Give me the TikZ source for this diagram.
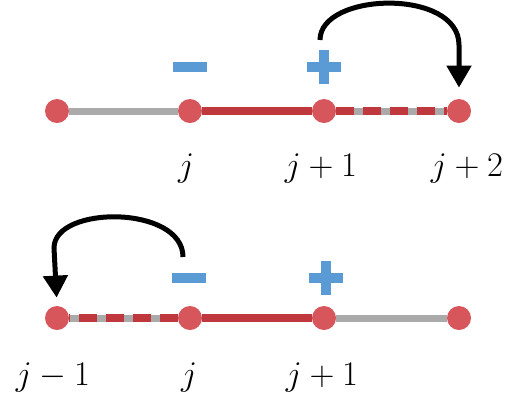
\documentclass[tikz,border=0pt]{standalone}
\usetikzlibrary{arrows.meta,backgrounds}
\definecolor{dotred}{RGB}{214,86,92}
\definecolor{linered}{RGB}{190,56,62}
\definecolor{linegray}{RGB}{170,170,170}
\definecolor{signblue}{RGB}{91,155,213}
\tikzset{
  site/.style={circle, fill=dotred, inner sep=0pt, minimum size=12pt},
  bond/.style={line width=3.5pt, linegray},
  hop/.style={line width=4pt, linered},
  hopdash/.style={line width=4pt, linered, dash pattern=on 9pt off 4.5pt},
  jump/.style={-{Triangle[width=12pt,length=11pt]}, line width=2.5pt, black},
  lab/.style={anchor=base, font=\fontsize{18}{21}\selectfont},
}
\begin{document}
\begin{tikzpicture}[x=0.5pt, y=-0.5pt]
\useasboundingbox (0,0) rectangle (524,414);
% upper chain
\node[site] (a1) at (57,111) {};
\node[site] (a2) at (190,111) {};
\node[site] (a3) at (324,111) {};
\node[site] (a4) at (459,111) {};
\begin{scope}[on background layer]
  \draw[bond] (a1) -- (a2);
  \draw[hop] (a2) -- (a3);
  \draw[bond] (a3) -- (a4);
  \draw[hopdash] (a3) -- (a4);
\end{scope}
\fill[signblue] (173,62) rectangle (207,72);
\fill[signblue] (307,62) rectangle (341,72);
\fill[signblue] (319,50) rectangle (329,84);
\coordinate (s1) at (320,40);
\draw[jump, shorten >=5.5pt] (s1) .. controls (320,-8) and (459,-12) .. (459,45) -- (a4.north);
\node[lab] (la2) at (186,176) {$j$};
\node[lab] (la3) at (321,176) {$j+1$};
\node[lab] (la4) at (467,176) {$j+2$};
% lower chain
\node[site] (b1) at (57,318) {};
\node[site] (b2) at (190,318) {};
\node[site] (b3) at (324,318) {};
\node[site] (b4) at (459,318) {};
\begin{scope}[on background layer]
  \draw[bond] (b1) -- (b2);
  \draw[hopdash] (b2) -- (b1);
  \draw[hop] (b2) -- (b3);
  \draw[bond] (b3) -- (b4);
\end{scope}
\fill[signblue] (172,273) rectangle (206,283);
\fill[signblue] (309,273) rectangle (343,283);
\fill[signblue] (321,261) rectangle (331,295);
\coordinate (s2) at (183,257);
\draw[jump, shorten >=4pt] (s2) .. controls (183,205) and (54,205) .. (54,248) -- (b1.north);
\node[lab] (lb1) at (53,385) {$j-1$};
\node[lab] (lb2) at (189,385) {$j$};
\node[lab] (lb3) at (322,385) {$j+1$};
\end{tikzpicture}
\end{document}
